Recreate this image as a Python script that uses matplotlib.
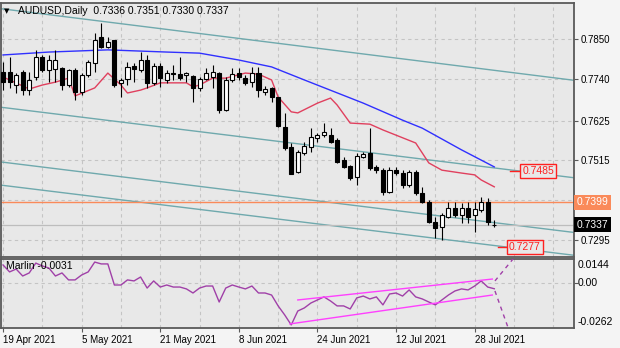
import numpy as np
import matplotlib
matplotlib.use("Agg")
import matplotlib.pyplot as plt
import matplotlib.transforms as mtransforms

plt.rcParams['font.family'] = ['Liberation Sans', 'DejaVu Sans']
plt.rcParams['font.size'] = 7

# ---- data ----
title = "AUDUSD,Daily  0.7336 0.7351 0.7330 0.7337"

opens = [0.7759, 0.7759, 0.7723, 0.7759, 0.7709, 0.7745, 0.7800, 0.7764, 0.7767, 0.7770,
         0.7723, 0.7764, 0.7704, 0.7751, 0.7784, 0.7855, 0.7828, 0.7847, 0.7729, 0.7740,
         0.7775, 0.7764, 0.7792, 0.7729, 0.7775, 0.7737, 0.7756, 0.7753, 0.7751, 0.7748,
         0.7715, 0.7740, 0.7745, 0.7756, 0.7654, 0.7737, 0.7756, 0.7742, 0.7731, 0.7756,
         0.7704, 0.7715, 0.7690, 0.7607, 0.7552, 0.7483, 0.7535, 0.7552, 0.7576, 0.7585,
         0.7585, 0.7571, 0.7516, 0.7499, 0.7469, 0.7524, 0.7535, 0.7497, 0.7488, 0.7428,
         0.7488, 0.7480, 0.7447, 0.7483, 0.7425, 0.7400, 0.7345, 0.7331, 0.7359, 0.7384,
         0.7364, 0.7384, 0.7364, 0.7378, 0.7400, 0.7336]
highs = [0.7786, 0.7800, 0.7756, 0.7764, 0.7759, 0.7820, 0.7806, 0.7806, 0.7820, 0.7773,
         0.7767, 0.7770, 0.7756, 0.7792, 0.7867, 0.7894, 0.7855, 0.7847, 0.7742, 0.7786,
         0.7784, 0.7814, 0.7806, 0.7784, 0.7784, 0.7764, 0.7778, 0.7800, 0.7759, 0.7751,
         0.7745, 0.7770, 0.7778, 0.7759, 0.7745, 0.7770, 0.7770, 0.7751, 0.7773, 0.7773,
         0.7720, 0.7717, 0.7690, 0.7646, 0.7563, 0.7544, 0.7566, 0.7604, 0.7590, 0.7618,
         0.7604, 0.7576, 0.7524, 0.7502, 0.7535, 0.7538, 0.7604, 0.7502, 0.7494, 0.7497,
         0.7497, 0.7488, 0.7488, 0.7488, 0.7441, 0.7406, 0.7359, 0.7370, 0.7400, 0.7400,
         0.7397, 0.7400, 0.7400, 0.7414, 0.7411, 0.7351]
lows = [0.7709, 0.7715, 0.7701, 0.7695, 0.7695, 0.7737, 0.7759, 0.7731, 0.7731, 0.7709,
        0.7717, 0.7682, 0.7695, 0.7745, 0.7759, 0.7825, 0.7825, 0.7717, 0.7690, 0.7723,
        0.7731, 0.7759, 0.7715, 0.7723, 0.7717, 0.7729, 0.7737, 0.7737, 0.7731, 0.7676,
        0.7706, 0.7737, 0.7715, 0.7646, 0.7651, 0.7731, 0.7737, 0.7723, 0.7717, 0.7690,
        0.7695, 0.7676, 0.7607, 0.7544, 0.7477, 0.7480, 0.7530, 0.7538, 0.7566, 0.7579,
        0.7563, 0.7508, 0.7494, 0.7461, 0.7447, 0.7522, 0.7488, 0.7480, 0.7419, 0.7425,
        0.7475, 0.7439, 0.7441, 0.7419, 0.7397, 0.7342, 0.7301, 0.7295, 0.7356, 0.7359,
        0.7342, 0.7342, 0.7318, 0.7373, 0.7337, 0.7330]
closes = [0.7731, 0.7731, 0.7751, 0.7709, 0.7737, 0.7800, 0.7764, 0.7792, 0.7792, 0.7723,
          0.7764, 0.7704, 0.7751, 0.7786, 0.7847, 0.7828, 0.7842, 0.7723, 0.7737, 0.7773,
          0.7767, 0.7792, 0.7729, 0.7775, 0.7742, 0.7756, 0.7753, 0.7742, 0.7756, 0.7715,
          0.7740, 0.7756, 0.7759, 0.7654, 0.7737, 0.7753, 0.7745, 0.7729, 0.7756, 0.7709,
          0.7712, 0.7690, 0.7610, 0.7549, 0.7477, 0.7538, 0.7555, 0.7579, 0.7585, 0.7593,
          0.7566, 0.7511, 0.7497, 0.7466, 0.7527, 0.7533, 0.7494, 0.7488, 0.7428, 0.7488,
          0.7480, 0.7447, 0.7483, 0.7425, 0.7400, 0.7345, 0.7329, 0.7364, 0.7384, 0.7364,
          0.7384, 0.7359, 0.7381, 0.7400, 0.7345, 0.7337]

date_idx = [0, 12, 24, 36, 48, 60, 72]
date_labels = ["19 Apr 2021", "5 May 2021", "21 May 2021", "8 Jun 2021",
               "24 Jun 2021", "12 Jul 2021", "28 Jul 2021"]
price_ticks = [0.7850, 0.7740, 0.7625, 0.7515, 0.7405, 0.7295]

# moving averages (bar index, value)
ma_slow_idx = [0, 7, 16, 25, 30, 36, 41, 46, 55, 61, 64, 70, 75]
ma_slow_val = [0.7806, 0.7814, 0.7820, 0.7814, 0.7811, 0.7792, 0.7773, 0.7737,
               0.7673, 0.7626, 0.7604, 0.7544, 0.7497]
ma_fast_idx = [0, 1, 4, 6, 8, 10, 11, 14, 16, 18, 19, 21, 22, 24, 28, 29, 30, 32, 34,
               37, 39, 41, 42, 44, 45, 48, 50, 51, 53, 56, 58, 63, 65, 67, 70, 72, 73, 75]
ma_fast_val = [0.7745, 0.7737, 0.7712, 0.7723, 0.7731, 0.7742, 0.7693, 0.7715, 0.7756,
               0.7723, 0.7701, 0.7709, 0.7715, 0.7729, 0.7729, 0.7718, 0.7723, 0.7742,
               0.7742, 0.7756, 0.7753, 0.7737, 0.7690, 0.7649, 0.7646, 0.7673, 0.7687,
               0.7668, 0.7618, 0.7615, 0.7599, 0.7563, 0.7508, 0.7488, 0.7480, 0.7475,
               0.7461, 0.7442]

# channel lines: (start idx, start price, end idx, end price)
channels = [(-0.46, 0.7934, 87.2, 0.7736),
            (-0.46, 0.7662, 87.2, 0.7467),
            (-0.46, 0.7511, 87.2, 0.7316),
            (-0.46, 0.7447, 87.2, 0.7253)]
level = 0.7399
bid = 0.7337
marks = [(0.7485, 77.4, 79.3), (0.7277, 75.6, 77.2)]

marlin = [0.0109, 0.0068, 0.0085, 0.0044, 0.0062, 0.0120, 0.0103, 0.0091, 0.0044, 0.0062,
          0.0021, 0.0021, 0.0050, 0.0068, 0.0126, 0.0115, 0.0115, -0.0009, -0.0009, 0.0021,
          0.0015, 0.0038, -0.0027, 0.0015, -0.0021, -0.0009, -0.0021, -0.0021, -0.0032, -0.0056,
          -0.0027, -0.0015, -0.0015, -0.0109, -0.0027, -0.0009, -0.0021, -0.0032, -0.0015, -0.0056,
          -0.0056, -0.0068, -0.0132, -0.0185, -0.0244, -0.0162, -0.0144, -0.0115, -0.0097, -0.0079,
          -0.0103, -0.0132, -0.0132, -0.0150, -0.0085, -0.0074, -0.0091, -0.0079, -0.0126, -0.0062,
          -0.0056, -0.0074, -0.0038, -0.0079, -0.0091, -0.0109, -0.0126, -0.0097, -0.0068, -0.0044,
          -0.0032, -0.0038, -0.0015, 0.0015, -0.0021, -0.0031]
marlin_upper = ([45, 74.7], [-0.0097, 0.0026])
marlin_lower = ([43.8, 74.7], [-0.0238, -0.0068])
marlin_up = ([75.1, 78.2], [0.0015, 0.0160])
marlin_down = ([75.1, 77.2], [-0.0044, -0.0270])

# ---- figure ----
W, H = 620, 348
fig = plt.figure(figsize=(W / 100, H / 100), dpi=100, facecolor='#f4f4f4')
bg = '#e8e8e8'
frame = '#5a5a5a'
gridc = '#c4c4c4'

ax = fig.add_axes([1 / W, 1 - 257 / H, 573 / W, 254 / H], facecolor=bg)
ax2 = fig.add_axes([1 / W, 1 - 328 / H, 573 / W, 69 / H], facecolor=bg, sharex=ax)

xmin, xmax = -0.31, 87.17
ax.set_xlim(xmin, xmax)
ax.set_ylim(0.72483, 0.79494)
ax2.set_ylim(-0.0262, 0.0144)

for a in (ax, ax2):
    for s in a.spines.values():
        s.set_color(frame)
        s.set_linewidth(1.3)
    a.set_xticks(date_idx)
    a.set_xticks([i for i in range(0, 88, 6) if i not in date_idx], minor=True)
    a.tick_params(axis='x', which='minor', length=0)
    a.grid(True, axis='x', which='both', color=gridc, ls=(0, (3, 3)), lw=0.8)
    a.set_axisbelow(True)

ax.tick_params(axis='x', length=0, labelbottom=False)
ax.yaxis.tick_right()
ax.set_yticks(price_ticks)
ax.set_yticklabels([f"{p:.4f}" for p in price_ticks])
ax.tick_params(axis='y', length=3, width=0.8, color=frame, pad=2, labelsize=7)
ax.grid(True, axis='y', color=gridc, ls=(0, (3, 3)), lw=0.8)

ax2.set_xticklabels(date_labels)
for lab in ax2.get_xticklabels():
    lab.set_ha('left')
ax2.tick_params(axis='x', which='major', length=3, width=0.8, color=frame, pad=2, labelsize=7)
ax2.yaxis.tick_right()
ax2.set_yticks([0.0])
ax2.set_yticklabels([])
ax2.tick_params(axis='y', length=3, width=0.8, color=frame)
ax2.grid(True, axis='y', color=gridc, ls=(0, (3, 3)), lw=0.8)

# channels, levels
for x0, p0, x1, p1 in channels:
    ax.plot([x0, x1], [p0, p1], color='#6fa9ad', lw=1.0, zorder=2)
ax.axhline(bid, color='#bdbdbd', lw=0.9, zorder=2)
ax.axhline(level, color='#fa8a5a', lw=1.0, zorder=2)

# moving averages
ax.plot(ma_slow_idx, ma_slow_val, color='#3030ff', lw=1.0, zorder=3)
ax.plot(ma_fast_idx, ma_fast_val, color='#e0405e', lw=1.0, zorder=3)

# candles
idx = np.arange(len(opens))
o = np.array(opens)
c = np.array(closes)
ax.vlines(idx, lows, highs, color='black', lw=0.8, zorder=4)
up = c >= o
body = np.maximum(np.abs(c - o), 0.00004)
ax.bar(idx[up], body[up], bottom=np.minimum(o, c)[up], width=0.62,
       color='white', edgecolor='black', lw=0.8, zorder=5)
ax.bar(idx[~up], body[~up], bottom=np.minimum(o, c)[~up], width=0.62,
       color='black', edgecolor='black', lw=0.8, zorder=5)

# price marks on channel lines
for price, x_line, x_box in marks:
    ax.plot([x_line, x_box], [price, price], color='#ff2020', lw=1.0, zorder=6)
    ax.text(x_box, price, f"{price:.4f}", color='#ff2020', fontsize=7.5, va='center', ha='left',
            zorder=7, bbox=dict(boxstyle='square,pad=0.2', fc=bg, ec='#ff2020', lw=1.0))

# right axis value boxes
tr = mtransforms.blended_transform_factory(ax.transAxes, ax.transData)
ax.text(1.004, level, f"{level:.4f}", transform=tr, color='white', fontsize=7.5,
        va='center', ha='left', clip_on=False, zorder=10,
        bbox=dict(boxstyle='square,pad=0.25', fc='#fa8a5a', ec='none'))
ax.text(1.004, bid, f"{bid:.4f}", transform=tr, color='white', fontsize=7.5,
        va='center', ha='left', clip_on=False, zorder=10,
        bbox=dict(boxstyle='square,pad=0.25', fc='black', ec='none'))

# title
ax.text(0.006, 0.968, "\u25BC", transform=ax.transAxes, fontsize=5, va='center', ha='left',
        family='DejaVu Sans')
ax.text(0.029, 0.968, title, transform=ax.transAxes, fontsize=7.5, va='center', ha='left')

# indicator
ax2.plot(idx, marlin, color='#a040a8', lw=1.0, zorder=3)
ax2.plot(*marlin_upper, color='#ff40ff', lw=1.0, zorder=3)
ax2.plot(*marlin_lower, color='#ff40ff', lw=1.0, zorder=3)
ax2.plot(*marlin_up, color='#a040a8', lw=1.0, ls=(0, (3, 3)), zorder=3)
ax2.plot(*marlin_down, color='#a040a8', lw=1.0, ls=(0, (3, 3)), zorder=3)
ax2.text(0.008, 0.9, f"Marlin {marlin[-1]:.4f}", transform=ax2.transAxes,
         fontsize=7.5, va='center', ha='left', zorder=6)
for frac, lab in [(0.913, "0.0144"), (0.652, "0.00"), (0.087, "-0.0262")]:
    ax2.text(1.006, frac, lab, transform=ax2.transAxes, fontsize=7.5, va='center', ha='left',
             clip_on=False)

fig.savefig("out.png", dpi=100, facecolor=fig.get_facecolor())
